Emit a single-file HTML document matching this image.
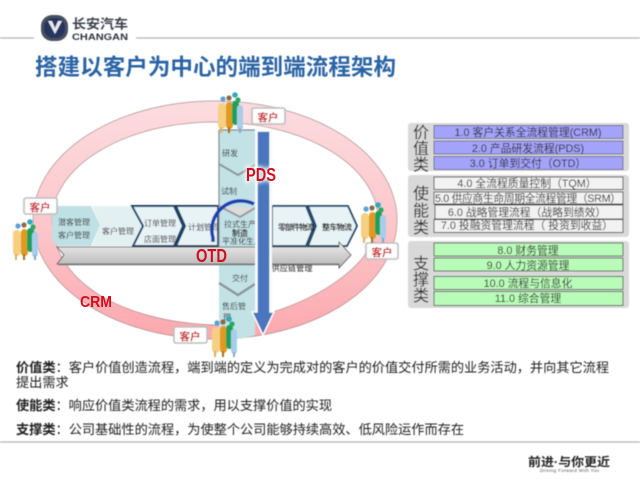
<!DOCTYPE html>
<html><head><meta charset="utf-8"><style>
html,body{margin:0;padding:0;background:#fff}
svg{display:block}
text{font-family:"Liberation Sans","Noto Sans CJK SC",sans-serif}
</style></head><body>
<svg width="640" height="480" viewBox="0 0 640 480" xmlns="http://www.w3.org/2000/svg">
<defs>
<linearGradient id="otd" x1="0" y1="0" x2="0" y2="1"><stop offset="0" stop-color="#eeeeee"/><stop offset="1" stop-color="#b4b4b4"/></linearGradient>
<linearGradient id="ring" x1="0" y1="0" x2="0" y2="1"><stop offset="0" stop-color="#fcdcdf"/><stop offset=".5" stop-color="#fcc8cc"/><stop offset="1" stop-color="#fba8ad"/></linearGradient>
<filter id="b"><feGaussianBlur stdDeviation=".55"/></filter>
<filter id="g" x="-30%" y="-30%" width="160%" height="160%"><feGaussianBlur stdDeviation="2"/></filter>
<g id="people">
<rect x="0" y="8" width="8" height="26" rx="4" fill="#f5cf82"/><rect x="2" y="32" width="2" height="6" fill="#d8b060"/><circle cx="5" cy="4" r="2.6" fill="#5aa0d8"/>
<rect x="8" y="7" width="7" height="27" rx="3.5" fill="#e09a20"/><circle cx="11" cy="3" r="2.6" fill="#8a6a40"/><rect x="10" y="32" width="2" height="6" fill="#a07020"/>
<rect x="14" y="6" width="7" height="24" rx="3.5" fill="#1aa05a"/><circle cx="17" cy="0" r="2.8" fill="#30a8c0"/>
<rect x="19" y="10" width="6" height="25" rx="3" fill="#a8cdea"/><circle cx="20" cy="5" r="2.6" fill="#2aa860"/><rect x="21" y="33" width="2" height="5" fill="#80a8c8"/>
</g>
</defs>
<g filter="url(#b)">
<!-- header -->
<line x1="0" y1="38" x2="34" y2="38" stroke="#b5b5b5" stroke-width="1.2"/>
<line x1="136" y1="38" x2="640" y2="38" stroke="#b5b5b5" stroke-width="1.2"/>
<rect x="41" y="15" width="27" height="26" rx="11" fill="#4a4f5e"/>
<rect x="44" y="18" width="21" height="20" rx="9" fill="#27345f"/>
<path d="M48 21 L55 34 L62 21 L58 21 L55 28 L52 21Z" fill="#e8e8ee"/>
<text x="72" y="28.5" font-size="13" font-weight="700" fill="#3a3f4c" textLength="56" lengthAdjust="spacingAndGlyphs">长安汽车</text>
<text x="72" y="40" font-size="9.5" font-weight="700" fill="#2f3340" textLength="56" lengthAdjust="spacingAndGlyphs">CHANGAN</text>
<text x="35" y="75" font-size="22.5" font-weight="700" fill="#2b64a4" textLength="361">搭建以客户为中心的端到端流程架构</text>

<!-- ring -->
<path fill-rule="evenodd" fill="url(#ring)" stroke="#a98a8c" stroke-width=".7" d="M33 220A182 119 0 1 0 397 220A182 119 0 1 0 33 220ZM52 220A163 98 0 0 1 378 220C378 265 310 312 215 325C120 322 52 280 52 220Z"/>

<!-- chevrons -->
<path d="M52 206H91L100 225L91 246H57L52 240Z" fill="#bfe0e4"/>
<path d="M92 206H132L142 226L132 246H92L100 225Z" fill="#e3f0f1"/>
<path d="M132 206H174L183 226L174 246H133L143 226Z" fill="#e8f3f5" stroke="#123f66" stroke-width="2"/>
<path d="M176 206H218V246H176L185 226Z" fill="#e8f3f5" stroke="#123f66" stroke-width="2"/>
<path d="M272 206H306L314 226L306 246H272Z" fill="#e8f3f5" stroke="#123f66" stroke-width="1.8"/>
<path d="M308 206H348L357 226L347 246H308L316 226Z" fill="#e8f3f5" stroke="#123f66" stroke-width="1.8"/>
<text x="188" y="230" font-size="8" fill="#222">计划管理</text>

<!-- PDS column -->
<path d="M219 130H255V335L240 339L219 330Z" fill="#c3e2e6"/>
<path d="M219 130H255M219 130V246" fill="none" stroke="#808890" stroke-width="1.2"/>
<path d="M219 164L238 175L255 165" fill="none" stroke="#8c9498" stroke-width="2"/>
<path d="M219 206L240 217L255 208" fill="#dcdcdc" stroke="#9a9a9a" stroke-width="2"/>
<path d="M219 283L238 295L255 284" fill="none" stroke="#8c9498" stroke-width="2.5"/>
<path d="M254 204A29 29 0 0 0 213 238V242" fill="none" stroke="#1a3fb4" stroke-width="3.5"/>

<!-- OTD arrow -->
<path d="M57 247H339V242L351 255L339 268V264H57L64 255Z" fill="url(#otd)" stroke="#444" stroke-width=".8"/>
<line x1="58" y1="264.5" x2="339" y2="264.5" stroke="#777" stroke-width="1.5"/>

<!-- labels under blue arrow -->
<g font-size="8" fill="#222" text-anchor="middle">
<text x="74" y="225">潜客管理</text><text x="74" y="238">客户管理</text>
<text x="118" y="234">客户管理</text>
<text x="160" y="226">订单管理</text><text x="160" y="242">店面管理</text>
<text x="230" y="156">研发</text><text x="229" y="194">试制</text>
<text x="240" y="227">拉式生产</text><text x="240" y="236" font-weight="700">制造</text><text x="242" y="244">平准化生产</text>
<text x="240" y="281">交付</text>
<text x="234" y="309">售后管</text><text x="227" y="320">理</text>
<text x="292" y="271" font-size="8.2">供应链管理</text>
<text x="296" y="230" font-weight="700" textLength="36">零部件物流</text><text x="337" y="230" font-weight="700" textLength="30">整车物流</text>
</g>

<!-- blue arrow -->
<rect x="255" y="130" width="17" height="185" fill="#f2f8fa"/>
<path d="M257 131H270V312H274L263 335L252 312H257Z" fill="#4a76bc" stroke="#fff" stroke-width="1.4"/>
</g>

<!-- big labels -->
<text x="246" y="181" font-size="18" font-weight="700" fill="#fff" filter="url(#g)" stroke="#fff" stroke-width="3" textLength="30" lengthAdjust="spacingAndGlyphs">PDS</text>
<text x="246" y="181" font-size="18" font-weight="700" fill="#d0101e" textLength="30" lengthAdjust="spacingAndGlyphs">PDS</text>
<text x="196" y="262" font-size="18" font-weight="700" fill="#d0101e" textLength="31" lengthAdjust="spacingAndGlyphs">OTD</text>
<text x="80" y="307" font-size="16" font-weight="700" fill="#d0101e" textLength="32" lengthAdjust="spacingAndGlyphs">CRM</text>

<!-- customer tags -->
<g filter="url(#b)">
<g fill="#fff" stroke="#bdbdbd" stroke-width="1.6">
<rect x="24" y="198" width="33" height="16" rx="2"/>
<rect x="252" y="108" width="33" height="16" rx="2"/>
<rect x="174" y="327" width="33" height="16" rx="2"/>
<rect x="366" y="243" width="32" height="16" rx="2"/>
</g>
<g font-size="10.5" font-weight="700" fill="#c8141e" text-anchor="middle">
<text x="40" y="211">客户</text><text x="268" y="121">客户</text><text x="190" y="340">客户</text><text x="382" y="256">客户</text>
</g>
<use href="#people" x="13" y="222"/>
<use href="#people" x="218" y="95"/>
<use href="#people" x="361" y="205"/>
<use href="#people" x="212" y="319"/>
</g>

<!-- right panels -->
<g filter="url(#b)">
<rect x="408" y="123" width="221" height="48" rx="3" fill="#d9d9d9"/>
<rect x="408" y="175" width="221" height="62" rx="3" fill="#d9d9d9"/>
<rect x="408" y="241" width="221" height="67" rx="3" fill="#d9d9d9"/>
<g fill="#a3a3fa" stroke="#5a5a80" stroke-width=".8">
<rect x="434" y="125.5" width="189" height="13"/><rect x="434" y="141" width="189" height="13"/><rect x="434" y="156.5" width="189" height="13"/>
</g>
<g fill="#f2f2f2" stroke="#333" stroke-width=".9">
<rect x="434" y="177" width="189" height="12.5"/><rect x="434" y="192" width="189" height="12"/><rect x="435" y="205" width="188" height="14"/><rect x="434" y="219.5" width="189" height="13"/>
</g>
<g fill="#b9fbb9" stroke="#3c5a3c" stroke-width=".9">
<rect x="434" y="243" width="189" height="13"/><rect x="434" y="258" width="189" height="13"/><rect x="434" y="276.5" width="189" height="13"/><rect x="434" y="291.5" width="189" height="14"/>
</g>
<g font-size="16" fill="#222" text-anchor="middle">
<text x="421" y="138">价</text><text x="421" y="154">值</text><text x="421" y="170">类</text>
<text x="421" y="199">使</text><text x="421" y="216">能</text><text x="421" y="233">类</text>
<text x="421" y="269">支</text><text x="421" y="285">撑</text><text x="421" y="301">类</text>
</g>
<g font-size="10.8" fill="#222" text-anchor="middle">
<text x="528" y="136">1.0 客户关系全流程管理(CRM)</text>
<text x="528" y="152">2.0 产品研发流程(PDS)</text>
<text x="528" y="167">3.0 订单到交付（OTD）</text>
<text x="527" y="187">4.0 全流程质量控制（TQM）</text>
<text x="528" y="202" textLength="186">5.0 供应商生命周期全流程管理（SRM）</text>
<text x="527" y="216">6.0 战略管理流程（战略到绩效）</text>
<text x="527" y="229">7.0 投融资管理流程（ 投资到收益）</text>
<text x="528" y="254">8.0 财务管理</text>
<text x="528" y="269">9.0 人力资源管理</text>
<text x="528" y="287">10.0 流程与信息化</text>
<text x="528" y="302">11.0 综合管理</text>
</g>
</g>

<!-- description -->
<g filter="url(#b)" font-size="13.2" fill="#222">
<text x="16" y="372" textLength="593"><tspan font-weight="700">价值类</tspan>：客户价值创造流程，端到端的定义为完成对的客户的价值交付所需的业务活动，并向其它流程</text>
<text x="16" y="387">提出需求</text>
<text x="16" y="410" textLength="316"><tspan font-weight="700">使能类</tspan>：响应价值类流程的需求，用以支撑价值的实现</text>
<text x="16" y="434" textLength="448"><tspan font-weight="700">支撑类</tspan>：公司基础性的流程，为使整个公司能够持续高效、低风险运作而存在</text>
<line x1="0" y1="442" x2="640" y2="442" stroke="#b5b5b5" stroke-width="1.2"/>
<text x="528" y="466" font-size="12" font-weight="700" fill="#222" textLength="82" lengthAdjust="spacingAndGlyphs">前进·与你更近</text>
<text x="540" y="472" font-size="4.5" fill="#555" textLength="59">Driving Forward With You</text>
</g>
</svg>
</body></html>
